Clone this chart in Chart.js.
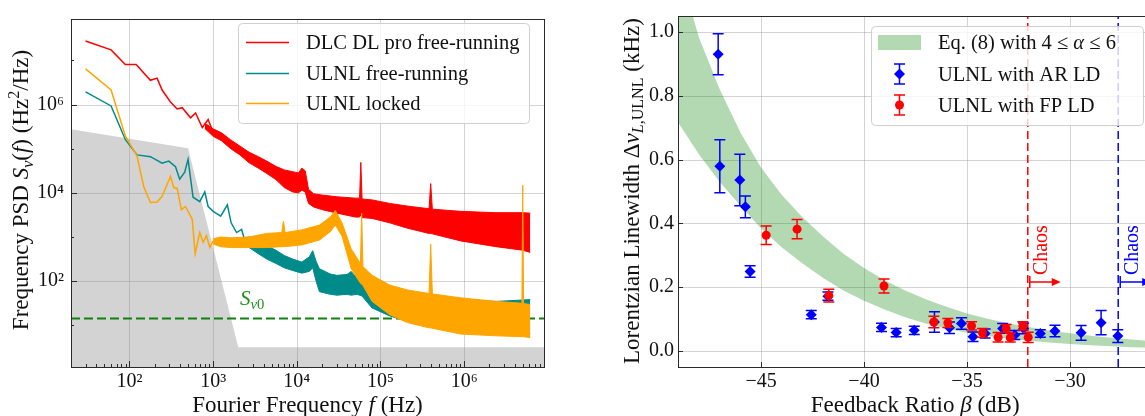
<!DOCTYPE html>
<html>
<head>
<meta charset="utf-8">
<script src="https://cdn.jsdelivr.net/npm/chart.js@4.4.0/dist/chart.umd.min.js"></script>
<style>
  html, body { margin: 0; padding: 0; background: #fff; overflow: hidden; width: 1145px; height: 416px; }
  #psd { position: absolute; left: 0; top: 0; }
  #lw { position: absolute; left: 560px; top: 0; }
</style>
</head>
<body>
<canvas id="psd" width="560" height="416"></canvas>
<canvas id="lw" width="600" height="416"></canvas>
<script>
// ---------- left panel: frequency noise PSD, values read as log10(f / Hz), log10(S / Hz^2/Hz)
const psdXMin = 20, psdXMax = 9.0e6;
const psdYMin = 1.13, psdYMax = 8.7e7;
const psdXTicks = [1e2, 1e3, 1e4, 1e5, 1e6];
const psdYTicks = [1e2, 1e4, 1e6];

const limitLogF = [1.30, 2.70, 3.30, 6.96];
const limitLogS = [5.44, 5.01, 0.50, 0.50];
const sv0LogS = 1.15;

const dlcLogF = [1.475, 1.78, 1.95, 2.08, 2.25, 2.33, 2.39, 2.49, 2.57, 2.63, 2.73, 2.79, 2.87, 2.94, 3.0];
const dlcLogS = [7.44, 7.24, 6.91, 6.91, 6.55, 6.60, 6.33, 6.06, 5.90, 5.93, 5.70, 5.81, 5.48, 5.66, 5.37];
const dlcBandLogF = [2.90, 3.00, 3.10, 3.21, 3.32, 3.43, 3.54, 3.64, 3.75, 3.85, 3.95, 4.02, 4.06, 4.10, 4.14, 4.20, 4.30, 4.48, 4.70, 4.75, 4.765, 4.78, 4.90, 5.11, 5.32, 5.58, 5.60, 5.62, 5.96, 6.38, 6.70, 6.79];
const dlcBandHi = [5.58, 5.45, 5.36, 5.20, 5.06, 4.92, 4.82, 4.72, 4.60, 4.52, 4.48, 4.45, 4.56, 4.50, 4.08, 3.98, 3.95, 3.91, 3.88, 3.88, 4.69, 3.86, 3.84, 3.76, 3.70, 3.64, 4.21, 3.63, 3.58, 3.55, 3.55, 3.54];
const dlcBandLo = [5.46, 5.28, 5.18, 5.00, 4.86, 4.68, 4.56, 4.44, 4.30, 4.12, 4.02, 4.00, 4.06, 4.02, 3.76, 3.68, 3.62, 3.54, 3.45, 3.45, 3.50, 3.44, 3.42, 3.32, 3.20, 3.08, 3.08, 3.07, 2.91, 2.78, 2.70, 2.65];

const freeLogF = [1.475, 1.78, 1.95, 2.09, 2.25, 2.39, 2.47, 2.55, 2.60, 2.66, 2.70, 2.76, 2.84, 2.90, 2.94, 3.0, 3.09, 3.17, 3.215, 3.28, 3.34, 3.38];
const freeLogS = [6.29, 5.97, 5.21, 4.86, 4.82, 4.67, 4.72, 4.59, 4.31, 4.47, 4.76, 3.90, 3.80, 4.02, 3.69, 3.58, 3.47, 3.73, 3.32, 3.10, 3.17, 2.91];
const freeBandLogF = [3.38, 3.43, 3.54, 3.64, 3.75, 3.85, 3.95, 4.06, 4.15, 4.19, 4.23, 4.27, 4.40, 4.48, 4.60, 4.65, 4.72, 4.78, 4.85, 4.90, 5.11, 5.32, 5.54, 5.96, 6.38, 6.79];
const freeBandHi = [2.98, 3.00, 2.90, 2.80, 2.70, 2.58, 2.50, 2.43, 2.55, 2.69, 2.45, 2.28, 2.16, 2.13, 2.15, 2.22, 2.06, 2.10, 1.92, 1.84, 1.77, 1.73, 1.65, 1.58, 1.54, 1.58];
const freeBandLo = [2.85, 2.76, 2.62, 2.50, 2.40, 2.30, 2.24, 2.18, 2.22, 2.30, 2.00, 1.76, 1.70, 1.68, 1.70, 1.68, 1.70, 1.66, 1.50, 1.39, 1.21, 1.09, 0.98, 0.87, 0.80, 0.80];

const lockLogF = [1.475, 1.78, 1.95, 2.09, 2.17, 2.25, 2.33, 2.39, 2.49, 2.53, 2.57, 2.62, 2.67, 2.75, 2.785, 2.84, 2.88, 2.92, 2.96, 3.0];
const lockLogS = [6.81, 6.33, 5.29, 4.84, 4.14, 3.78, 3.79, 3.92, 4.37, 4.12, 4.10, 3.62, 3.69, 3.40, 2.62, 3.10, 2.88, 3.03, 2.76, 2.91];
const lockBandLogF = [3.00, 3.09, 3.21, 3.43, 3.64, 3.82, 3.84, 3.86, 4.06, 4.27, 4.40, 4.46, 4.54, 4.65, 4.76, 4.775, 4.79, 4.90, 5.11, 5.32, 5.58, 5.60, 5.62, 5.96, 6.38, 6.69, 6.70, 6.71, 6.79];
const lockBandHi = [2.96, 3.00, 2.98, 3.00, 3.08, 3.10, 3.36, 3.10, 3.16, 3.27, 3.45, 3.60, 3.32, 2.73, 2.40, 3.54, 2.33, 2.13, 1.91, 1.80, 1.72, 2.84, 1.71, 1.62, 1.54, 1.50, 4.17, 1.49, 1.47];
const lockBandLo = [2.84, 2.78, 2.76, 2.76, 2.76, 2.78, 2.78, 2.78, 2.82, 2.93, 3.12, 3.27, 3.02, 2.28, 1.95, 1.93, 1.90, 1.54, 1.24, 1.06, 0.94, 0.94, 0.93, 0.80, 0.76, 0.74, 0.74, 0.74, 0.72];

// ---------- right panel: linewidth vs feedback ratio
const lwXMin = -49.03, lwXMax = -26.0;
const lwXTicks = [-45, -40, -35, -30];
const lwYTicks = [0, 0.2, 0.4, 0.6, 0.8, 1.0];

const bandDb = [-49.5, -49, -48, -47, -46, -45, -44, -43, -42, -41, -40, -39, -38, -37, -36, -35, -34, -33, -32, -31, -30, -29, -28, -27, -26, -25.5];
const bandHi = [1.32, 1.20, 0.98, 0.82, 0.685, 0.575, 0.49, 0.42, 0.36, 0.305, 0.26, 0.222, 0.19, 0.162, 0.139, 0.118, 0.101, 0.087, 0.075, 0.064, 0.056, 0.048, 0.042, 0.036, 0.031, 0.029];
const bandLo = [0.76, 0.714, 0.615, 0.53, 0.455, 0.385, 0.325, 0.275, 0.23, 0.19, 0.158, 0.13, 0.106, 0.086, 0.07, 0.057, 0.047, 0.039, 0.032, 0.027, 0.022, 0.018, 0.015, 0.012, 0.010, 0.009];

const arDb = [-47.08, -47.00, -46.03, -45.76, -45.53, -42.56, -41.75, -39.15, -38.44, -37.56, -36.58, -35.85, -35.27, -34.71, -34.12, -33.27, -32.68, -32.25, -31.44, -30.73, -29.46, -28.49, -27.68];
const arLw = [0.930, 0.579, 0.536, 0.452, 0.249, 0.114, 0.172, 0.074, 0.058, 0.065, 0.091, 0.073, 0.086, 0.045, 0.055, 0.071, 0.050, 0.071, 0.055, 0.063, 0.057, 0.089, 0.047];
const arErr = [0.064, 0.083, 0.081, 0.034, 0.018, 0.013, 0.013, 0.013, 0.013, 0.013, 0.032, 0.018, 0.018, 0.015, 0.014, 0.015, 0.014, 0.017, 0.012, 0.018, 0.023, 0.038, 0.020];

const fpDb = [-44.75, -43.25, -41.71, -39.03, -36.61, -35.93, -34.78, -34.25, -33.49, -33.10, -32.90, -32.29, -32.03];
const fpLw = [0.363, 0.382, 0.174, 0.204, 0.091, 0.088, 0.079, 0.057, 0.043, 0.071, 0.042, 0.079, 0.043];
const fpErr = [0.029, 0.030, 0.020, 0.022, 0.018, 0.014, 0.013, 0.014, 0.015, 0.012, 0.014, 0.013, 0.016];

const chaosDb = [-32.05, -27.66];

// ---------- font: pick the first installed serif face
function pickSerif() {
  const c = document.createElement('canvas').getContext('2d');
  const probe = 'Frequency PSD Linewidth 0123456789';
  c.font = '40px monospace';
  const base = c.measureText(probe).width;
  const options = [['Liberation Serif', 1.0], ['DejaVu Serif', 0.86]];
  for (const [name, k] of options) {
    c.font = '40px "' + name + '", monospace';
    if (Math.abs(c.measureText(probe).width - base) > 0.5) return ['"' + name + '", serif', k];
  }
  return ['serif', 1.0];
}
const [FAMILY, FK] = pickSerif();
const fs = v => Math.round(v * FK * 10) / 10;

const TXT = '#111';
const GRID = 'rgba(150,150,150,0.42)';
const RED = '#ff0000', TEAL = '#008b8b', ORANGE = '#ffa500', BLUE = '#0000ff';
const SUP = {'0': '⁰', '1': '¹', '2': '²', '3': '³', '4': '⁴', '5': '⁵', '6': '⁶', '7': '⁷'};

const pts = (xs, ys, f) => xs.map((x, i) => ({x: f ? Math.pow(10, x) : x, y: f ? Math.pow(10, ys[i]) : ys[i]}));

// text with italic / sub / superscript pieces: [text, flags]  i=italic b=sub p=sup
function rich(ctx, segs, x, y, size, opt) {
  opt = opt || {};
  ctx.save();
  ctx.translate(x, y);
  if (opt.rotate) ctx.rotate(opt.rotate);
  ctx.fillStyle = opt.color || TXT;
  ctx.textBaseline = 'alphabetic';
  ctx.textAlign = 'left';
  const parts = segs.map(([t, f = '']) => {
    const small = f.includes('b') || f.includes('p');
    const font = (f.includes('i') ? 'italic ' : '') + (small ? size * 0.7 : size) + 'px ' + FAMILY;
    ctx.font = font;
    return {t, font, w: ctx.measureText(t).width,
      dy: f.includes('b') ? size * 0.2 : f.includes('p') ? -size * 0.38 : 0};
  });
  const total = parts.reduce((a, p) => a + p.w, 0);
  let cx = opt.align === 'left' ? 0 : -total / 2;
  for (const p of parts) {
    ctx.font = p.font;
    ctx.fillText(p.t, cx, size * 0.33 + p.dy);
    cx += p.w;
  }
  ctx.restore();
}

function legendBox(ctx, l, t, r, b) {
  ctx.save();
  ctx.fillStyle = 'rgba(255,255,255,0.8)';
  ctx.strokeStyle = '#cfcfcf';
  ctx.lineWidth = 1;
  ctx.beginPath();
  ctx.roundRect(l + 0.5, t + 0.5, r - l, b - t, 4);
  ctx.fill();
  ctx.stroke();
  ctx.restore();
}

function frame(chart) {
  const {ctx, chartArea: a} = chart;
  ctx.save();
  ctx.strokeStyle = '#2a2a2a';
  ctx.lineWidth = 1;
  ctx.strokeRect(Math.round(a.left) + 0.5, Math.round(a.top) + 0.5,
    Math.round(a.right - a.left), Math.round(a.bottom - a.top));
  ctx.restore();
}

// grid lines drawn by hand so they can sit above filled patches
function grid(chart, xs, ys) {
  const {ctx, chartArea: a, scales: {x, y}} = chart;
  ctx.save();
  ctx.strokeStyle = GRID;
  ctx.lineWidth = 1;
  ctx.beginPath();
  xs.forEach(v => {
    const px = Math.round(x.getPixelForValue(v)) + 0.5;
    if (px < a.left || px > a.right) return;
    ctx.moveTo(px, a.top); ctx.lineTo(px, a.bottom);
  });
  ys.forEach(v => {
    const py = Math.round(y.getPixelForValue(v)) + 0.5;
    ctx.moveTo(a.left, py); ctx.lineTo(a.right, py);
  });
  ctx.stroke();
  ctx.restore();
}

function lineSet(label, data, color, order, extra) {
  return Object.assign({label, data, borderColor: color, backgroundColor: color, borderWidth: 1.5,
    pointRadius: 0, tension: 0, fill: false, order}, extra || {});
}

function bandSets(label, xs, hi, lo, color, order) {
  return [
    lineSet(label + ' (upper)', pts(xs, hi, true), color, order, {borderWidth: 1}),
    lineSet(label + ' (lower)', pts(xs, lo, true), color, order, {borderWidth: 1, fill: '-1'})
  ];
}

// ---------- left chart
const psdDecor = {
  id: 'psdDecor',
  afterDatasetDraw(chart, args) {
    if (args.index === 0) grid(chart, psdXTicks, psdYTicks);
  },
  afterDraw(chart) {
    const {ctx, chartArea: a, scales: {x, y}} = chart;
    ctx.save();
    ctx.strokeStyle = '#2a2a2a';
    ctx.lineWidth = 1;
    ctx.beginPath();
    for (let d = 1; d <= 7; d++) {
      for (let k = 1; k <= 9; k++) {
        const v = k * Math.pow(10, d);
        if (v < psdXMin || v > psdXMax) continue;
        const px = Math.round(x.getPixelForValue(v)) + 0.5;
        ctx.moveTo(px, a.bottom);
        ctx.lineTo(px, a.bottom - (k === 1 ? 6 : 3));
      }
    }
    for (let d = 0; d <= 7; d++) {
      const v = Math.pow(10, d);
      if (v < psdYMin || v > psdYMax) continue;
      const py = Math.round(y.getPixelForValue(v)) + 0.5;
      ctx.moveTo(a.left, py);
      ctx.lineTo(a.left + (d % 2 === 0 ? 6 : 3), py);
    }
    ctx.stroke();
    ctx.restore();
    frame(chart);

    // S_nu0 label
    rich(ctx, [['S', 'i'], ['ν', 'ib'], ['0', 'b']],
      x.getPixelForValue(Math.pow(10, 3.32)), y.getPixelForValue(Math.pow(10, 1.62)), fs(21),
      {align: 'left', color: '#1f8f1f'});

    // axis titles
    rich(ctx, [['Frequency PSD '], ['S', 'i'], ['ν', 'ib'], ['('], ['f', 'i'], [') (Hz'], ['2', 'p'], ['/Hz)']],
      20.5, 190, fs(23), {rotate: -Math.PI / 2});
    rich(ctx, [['Fourier Frequency '], ['f', 'i'], [' (Hz)']], (a.left + a.right) / 2, 404, fs(23));

    // legend
    legendBox(ctx, 238, 23, 529, 123);
    const items = [[chart.data.datasets[2], 42], [chart.data.datasets[5], 73], [chart.data.datasets[8], 103]];
    items.forEach(([ds, yy]) => {
      ctx.save();
      ctx.strokeStyle = ds.borderColor;
      ctx.lineWidth = 1.5;
      ctx.beginPath();
      ctx.moveTo(246, yy + 0.5);
      ctx.lineTo(289, yy + 0.5);
      ctx.stroke();
      ctx.restore();
      rich(ctx, [[ds.label]], 306, yy, fs(20.5), {align: 'left'});
    });
  }
};

const psdDatasets = [
  lineSet('Sensitivity limit', pts(limitLogF, limitLogS, true), '#d3d3d3', 20, {borderWidth: 0, fill: 'start'}),
  lineSet('Sν0', [{x: psdXMin, y: Math.pow(10, sv0LogS)}, {x: psdXMax, y: Math.pow(10, sv0LogS)}], '#118011', 15,
    {borderWidth: 2, borderDash: [9, 4]}),
  lineSet('DLC DL pro free-running', pts(dlcLogF, dlcLogS, true), RED, 10),
  ...bandSets('DLC DL pro free-running', dlcBandLogF, dlcBandHi, dlcBandLo, RED, 10),
  lineSet('ULNL free-running', pts(freeLogF, freeLogS, true), TEAL, 8),
  ...bandSets('ULNL free-running', freeBandLogF, freeBandHi, freeBandLo, TEAL, 8),
  lineSet('ULNL locked', pts(lockLogF, lockLogS, true), ORANGE, 6),
  ...bandSets('ULNL locked', lockBandLogF, lockBandHi, lockBandLo, ORANGE, 6)
];

const tickFont = {family: FAMILY, size: fs(20)};

new Chart(document.getElementById('psd'), {
  type: 'line',
  data: {datasets: psdDatasets},
  options: {
    responsive: false,
    animation: false,
    events: [],
    layout: {padding: {top: 13, right: 16, left: 0, bottom: 0}},
    plugins: {legend: {display: false}, tooltip: {enabled: false}},
    scales: {
      x: {
        type: 'logarithmic', min: psdXMin, max: psdXMax,
        afterBuildTicks: s => { s.ticks = psdXTicks.map(v => ({value: v})); },
        afterFit: s => { s.height = 49; },
        ticks: {font: tickFont, color: TXT, padding: 3, maxRotation: 0, autoSkip: false,
          callback: v => '10' + SUP[Math.round(Math.log10(v))]},
        grid: {display: false, drawTicks: false},
        border: {display: false}
      },
      y: {
        type: 'logarithmic', min: psdYMin, max: psdYMax,
        afterBuildTicks: s => { s.ticks = psdYTicks.map(v => ({value: v})); },
        afterFit: s => { s.width = 71; },
        ticks: {font: tickFont, color: TXT, padding: 7, autoSkip: false,
          callback: v => '10' + SUP[Math.round(Math.log10(v))]},
        grid: {display: false, drawTicks: false},
        border: {display: false}
      }
    }
  },
  plugins: [psdDecor]
});

// ---------- right chart
const errorBars = {
  id: 'errorBars',
  beforeDatasetsDraw(chart) {
    grid(chart, lwXTicks, lwYTicks);
  },
  beforeDatasetDraw(chart, args) {
    const ds = chart.data.datasets[args.index];
    if (!ds.errors) return;
    const {ctx, scales: {x, y}} = chart;
    ctx.save();
    ctx.strokeStyle = ds.backgroundColor;
    ctx.lineWidth = 1.5;
    ctx.beginPath();
    ds.data.forEach((p, i) => {
      const px = x.getPixelForValue(p.x);
      const top = y.getPixelForValue(p.y + ds.errors[i]);
      const bot = y.getPixelForValue(p.y - ds.errors[i]);
      ctx.moveTo(px, top); ctx.lineTo(px, bot);
      ctx.moveTo(px - 5.5, top); ctx.lineTo(px + 5.5, top);
      ctx.moveTo(px - 5.5, bot); ctx.lineTo(px + 5.5, bot);
    });
    ctx.stroke();
    ctx.restore();
  },
  afterDatasetDraw(chart, args) {
    if (args.index !== 1) return;
    // chaos thresholds
    const {ctx, chartArea: a, scales: {x, y}} = chart;
    const colors = [RED, BLUE];
    chaosDb.forEach((db, i) => {
      const px = x.getPixelForValue(db);
      const ay = y.getPixelForValue(0.216);
      ctx.save();
      ctx.strokeStyle = colors[i];
      ctx.fillStyle = colors[i];
      ctx.lineWidth = 1.5;
      ctx.setLineDash([8, 4]);
      ctx.beginPath();
      ctx.moveTo(px, a.bottom);
      ctx.lineTo(px, a.top);
      ctx.stroke();
      ctx.setLineDash([]);
      ctx.beginPath();
      ctx.moveTo(px + 2, ay - 6); ctx.lineTo(px + 2, ay + 6);
      ctx.moveTo(px + 2, ay); ctx.lineTo(px + 25, ay);
      ctx.stroke();
      ctx.beginPath();
      ctx.moveTo(px + 33, ay); ctx.lineTo(px + 24, ay - 4); ctx.lineTo(px + 24, ay + 4);
      ctx.closePath();
      ctx.fill();
      ctx.restore();
      rich(ctx, [['Chaos']], px + 13, ay - 7, fs(20), {rotate: -Math.PI / 2, align: 'left', color: colors[i]});
    });
  }
};

const lwDecor = {
  id: 'lwDecor',
  afterDraw(chart) {
    const {ctx, chartArea: a, scales: {x, y}} = chart;
    ctx.save();
    ctx.strokeStyle = '#2a2a2a';
    ctx.lineWidth = 1;
    ctx.beginPath();
    lwXTicks.forEach(v => {
      const px = Math.round(x.getPixelForValue(v)) + 0.5;
      ctx.moveTo(px, a.bottom); ctx.lineTo(px, a.bottom - 5);
    });
    lwYTicks.forEach(v => {
      const py = Math.round(y.getPixelForValue(v)) + 0.5;
      ctx.moveTo(a.left, py); ctx.lineTo(a.left + 5, py);
    });
    ctx.stroke();
    ctx.restore();
    frame(chart);

    rich(ctx, [['Lorentzian Linewidth Δ'], ['ν', 'i'], ['L', 'ib'], [',ULNL', 'b'], [' (kHz)']],
      71, 191, fs(23), {rotate: -Math.PI / 2});
    rich(ctx, [['Feedback Ratio '], ['β', 'i'], [' (dB)']], (a.left + a.right) / 2, 404, fs(23));

    // legend
    legendBox(ctx, 311, 26, 583, 125);
    ctx.save();
    ctx.fillStyle = 'rgba(0,128,0,0.3)';
    ctx.fillRect(318, 35, 43, 15);
    ctx.lineWidth = 1.5;
    [[BLUE, 74, 'rectRot', 5.5], [RED, 105, 'circle', 4.5]].forEach(([c, yy, st, r]) => {
      ctx.strokeStyle = c;
      ctx.fillStyle = c;
      ctx.beginPath();
      ctx.moveTo(339.5, yy - 10); ctx.lineTo(339.5, yy + 10);
      ctx.moveTo(334, yy - 10); ctx.lineTo(345, yy - 10);
      ctx.moveTo(334, yy + 10); ctx.lineTo(345, yy + 10);
      ctx.stroke();
      Chart.helpers.drawPoint(ctx, {pointStyle: st, radius: r, borderWidth: 0}, 339.5, yy);
    });
    ctx.restore();
    rich(ctx, [['Eq. (8) with 4 ≤ '], ['α', 'i'], [' ≤ 6']], 378, 42.5, fs(20.5), {align: 'left'});
    rich(ctx, [[chart.data.datasets[2].label]], 378, 74, fs(20.5), {align: 'left'});
    rich(ctx, [[chart.data.datasets[3].label]], 378, 105, fs(20.5), {align: 'left'});
  }
};

new Chart(document.getElementById('lw'), {
  type: 'scatter',
  data: {
    datasets: [
      {label: 'Eq. (8) with 4 ≤ α ≤ 6 (upper)', data: pts(bandDb, bandHi), showLine: true, borderWidth: 0,
        pointRadius: 0, borderColor: 'rgba(0,0,0,0)', backgroundColor: 'rgba(0,128,0,0.3)', order: 10},
      {label: 'Eq. (8) with 4 ≤ α ≤ 6 (lower)', data: pts(bandDb, bandLo), showLine: true, borderWidth: 0,
        pointRadius: 0, borderColor: 'rgba(0,0,0,0)', backgroundColor: 'rgba(0,128,0,0.3)', fill: '-1', order: 10},
      {label: 'ULNL with AR LD', data: pts(arDb, arLw), errors: arErr, pointStyle: 'rectRot', pointRadius: 5.5,
        backgroundColor: BLUE, borderWidth: 0, order: 5},
      {label: 'ULNL with FP LD', data: pts(fpDb, fpLw), errors: fpErr, pointStyle: 'circle', pointRadius: 4.5,
        backgroundColor: RED, borderWidth: 0, order: 4}
    ]
  },
  options: {
    responsive: false,
    animation: false,
    events: [],
    layout: {padding: {top: 14, right: 7.6, left: 0, bottom: 0}},
    plugins: {legend: {display: false}, tooltip: {enabled: false}},
    scales: {
      x: {
        type: 'linear', min: lwXMin, max: lwXMax,
        afterBuildTicks: s => { s.ticks = lwXTicks.map(v => ({value: v})); },
        afterFit: s => { s.height = 49; },
        ticks: {font: tickFont, color: TXT, padding: 3, maxRotation: 0, autoSkip: false,
          callback: v => (v < 0 ? '−' : '') + Math.abs(v)},
        grid: {display: false, drawTicks: false},
        border: {display: false}
      },
      y: {
        type: 'linear', min: -0.05, max: 1.05,
        afterBuildTicks: s => { s.ticks = lwYTicks.map(v => ({value: v})); },
        afterFit: s => { s.width = 118; },
        ticks: {font: tickFont, color: TXT, padding: 4, autoSkip: false, callback: v => v.toFixed(1)},
        grid: {display: false, drawTicks: false},
        border: {display: false}
      }
    }
  },
  plugins: [errorBars, lwDecor]
});
</script>
</body>
</html>
